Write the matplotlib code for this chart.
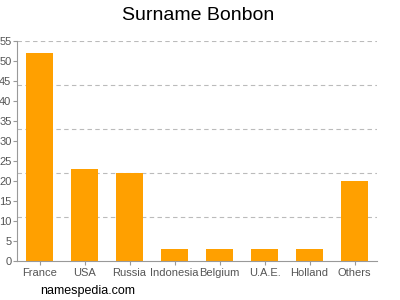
import matplotlib
matplotlib.use('Agg')
from matplotlib import pyplot as plt

countries = ['France', 'USA', 'Russia', 'Indonesia', 'Belgium', 'U.A.E.', 'Holland', 'Others']
counts = [52, 23, 22, 3, 3, 3, 3, 20]
yticks = list(range(0, 56, 5))
grid_levels = [11, 22, 33, 44, 55]

plt.rcParams['font.family'] = ['Liberation Sans', 'DejaVu Sans']

fig = plt.figure(figsize=(4, 3), dpi=100)
ax = fig.add_axes([0.0425, 0.13, 0.9, 0.734])

ax.bar(range(len(countries)), counts, width=0.6, color='#ffa000', zorder=2)
for g in grid_levels:
    ax.axhline(g, color='#bbbbbb', linestyle=(0, (4, 3)), linewidth=0.8, zorder=1)

ax.set_xlim(-0.5, len(countries) - 0.5)
ax.set_ylim(0, 55)
ax.set_xticks(range(len(countries)))
ax.set_xticklabels(countries)
ax.set_yticks(yticks)
ax.tick_params(colors='#999999', labelcolor='#555555', labelsize=8, length=3, width=0.8, pad=1)
ax.tick_params(axis='x', pad=2)

for side in ['top', 'right']:
    ax.spines[side].set_visible(False)
for side in ['left', 'bottom']:
    ax.spines[side].set_color('#999999')
    ax.spines[side].set_linewidth(0.8)

fig.text(0.495, 0.948, 'Surname Bonbon', ha='center', va='center', fontsize=14)
fig.text(0.1, 0.03, 'namespedia.com', ha='left', va='center', fontsize=9)

fig.savefig('out.png', dpi=100)
